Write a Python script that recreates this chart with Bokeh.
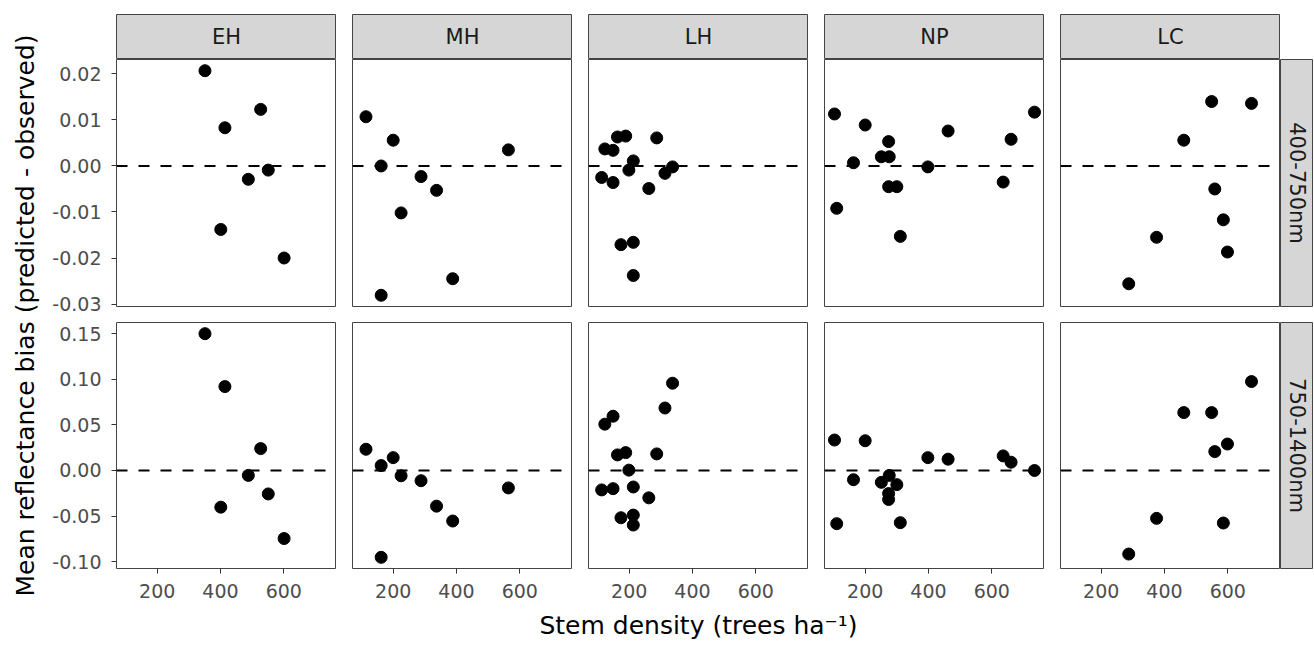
import numpy as np
from bokeh.plotting import figure
from bokeh.layouts import row, column
from bokeh.models import Range1d, Span, FixedTicker, PrintfTickFormatter
from bokeh.core.properties import value
from bokeh.embed import file_html
from bokeh.resources import INLINE

# ---------------- data ----------------
sites = ["EH", "MH", "LH", "NP", "LC"]
bands = ["400-750nm", "750-1400nm"]

eh_x = [351, 414, 527, 488, 551, 401, 601]
eh_vis = [0.0207, 0.0083, 0.0123, -0.0029, -0.0009, -0.0138, -0.0200]
eh_nir = [0.150, 0.092, 0.024, -0.0054, -0.0257, -0.0402, -0.0746]

mh_x = [114, 200, 564, 162, 288, 337, 225, 388, 162]
mh_vis = [0.0107, 0.0056, 0.0035, 0.0000, -0.0023, -0.0053, -0.0102, -0.0245, -0.0281]
mh_nir = [0.0233, 0.0141, -0.0191, 0.0054, -0.0112, -0.0391, -0.0058, -0.0554, -0.0952]

lh_x = [123, 149, 163, 189, 287, 213, 199, 337, 313, 113, 149, 262, 174, 213, 213]
lh_vis = [0.0037, 0.0034, 0.0063, 0.0065, 0.0061, 0.0011, -0.0009, -0.0002,
          -0.0016, -0.0025, -0.0036, -0.0049, -0.0171, -0.0166, -0.0238]
lh_nir = [0.0508, 0.0595, 0.0171, 0.0196, 0.0182, -0.0181, 0.0004, 0.0957,
          0.0685, -0.0213, -0.0199, -0.0300, -0.0518, -0.0489, -0.0598]

np_x = [103, 200, 274, 251, 276, 163, 398, 462, 661, 735, 636, 274, 300, 110, 311]
np_vis = [0.0113, 0.0089, 0.0053, 0.0020, 0.0020, 0.0007, -0.0002, 0.0076,
          0.0058, 0.0117, -0.0035, -0.0045, -0.0045, -0.0092, -0.0153]
np_nir = [0.0334, 0.0326, -0.0253, -0.0130, -0.0054, -0.0101, 0.0141, 0.0124,
          0.0091, 0.0000, 0.0160, -0.0318, -0.0155, -0.0583, -0.0572]

lc_x = [549, 675, 461, 559, 586, 375, 599, 287]
lc_vis = [0.0140, 0.0136, 0.0056, -0.0050, -0.0117, -0.0155, -0.0187, -0.0256]
lc_nir = [0.0635, 0.0975, 0.0635, 0.0207, -0.0576, -0.0525, 0.0290, -0.0916]

x_ticks = [200, 400, 600]
vis_ticks = [-0.03, -0.02, -0.01, 0.00, 0.01, 0.02]
nir_ticks = [-0.10, -0.05, 0.00, 0.05, 0.10, 0.15]

x_label = "Stem density (trees ha\u207b\u00b9)"
y_label = "Mean reflectance bias (predicted - observed)"

xs = [eh_x, mh_x, lh_x, np_x, lc_x]
ys = [[eh_vis, mh_vis, lh_vis, np_vis, lc_vis],
      [eh_nir, mh_nir, lh_nir, np_nir, lc_nir]]
yticks = [vis_ticks, nir_ticks]

# ---------------- style ----------------
FONT = "DejaVu Sans"
BORDER = "#444444"
STRIP_FILL = "#D6D6D6"


def expand(vals, f=0.05):
    lo, hi = min(vals), max(vals)
    pad = (hi - lo) * f
    return Range1d(lo - pad, hi + pad)


all_x = [v for xx in xs for v in xx]
x_range = expand(all_x)
y_ranges = [expand([v for yy in ys[b] for v in yy]) for b in range(2)]

FW = 220      # panel frame width
GAP = 16
LEFT0 = 72    # left border of first column (y axis)
FH = [247, 246]
BOTTOM = [16, 38]
STRIP_W = 33
TOP = 14
YL_W = 44
XL_H = 35


def base_fig(width, height, **kw):
    p = figure(width=width, height=height, toolbar_location=None,
               output_backend="svg", tools="", **kw)
    p.grid.visible = False
    p.background_fill_color = "white"
    p.border_fill_color = "white"
    return p


def style_axis(ax):
    ax.axis_line_color = None
    ax.major_tick_line_color = "#333333"
    ax.major_tick_line_width = 1
    ax.major_tick_out = 5
    ax.major_tick_in = 0
    ax.minor_tick_line_color = None
    ax.major_label_text_font = FONT
    ax.major_label_text_font_size = "19px"
    ax.major_label_text_color = "#4D4D4D"
    ax.major_label_standoff = 10


# strip row on top
strip_figs = []
for i, s in enumerate(sites):
    lb = LEFT0 if i == 0 else GAP
    p = base_fig(lb + FW, TOP + 45, x_range=Range1d(0, 1), y_range=Range1d(0, 1),
                 x_axis_location=None, y_axis_location=None,
                 min_border_left=lb, min_border_right=0,
                 min_border_top=TOP, min_border_bottom=0)
    p.background_fill_color = STRIP_FILL
    p.outline_line_color = BORDER
    p.outline_line_width = 1
    p.text(x=[0.5], y=[0.5], text=[s], text_align="center", text_baseline="middle",
           text_font=value(FONT), text_font_size="21px", text_color="#1A1A1A")
    strip_figs.append(p)

panel_rows = []
for b in range(2):
    figs = []
    for i, s in enumerate(sites):
        lb = LEFT0 if i == 0 else GAP
        p = base_fig(lb + FW, FH[b] + BOTTOM[b], x_range=x_range, y_range=y_ranges[b],
                     x_axis_location="below" if b == 1 else None,
                     y_axis_location="left" if i == 0 else None,
                     min_border_left=lb, min_border_right=0,
                     min_border_top=0, min_border_bottom=BOTTOM[b])
        p.outline_line_color = BORDER
        p.outline_line_width = 1
        if b == 1:
            p.xaxis.ticker = FixedTicker(ticks=x_ticks)
            style_axis(p.xaxis[0])
        if i == 0:
            p.yaxis.ticker = FixedTicker(ticks=yticks[b])
            p.yaxis.formatter = PrintfTickFormatter(format="%.2f")
            style_axis(p.yaxis[0])
        p.add_layout(Span(location=0, dimension="width", line_color="black",
                          line_width=2, line_dash="11 11"))
        p.scatter(x=xs[i], y=ys[b][i], size=12, color="black")
        figs.append(p)
    # right strip
    r = base_fig(STRIP_W, FH[b] + BOTTOM[b], x_range=Range1d(0, 1), y_range=Range1d(0, 1),
                 x_axis_location=None, y_axis_location=None,
                 min_border_left=0, min_border_right=0,
                 min_border_top=0, min_border_bottom=BOTTOM[b])
    r.background_fill_color = STRIP_FILL
    r.outline_line_color = BORDER
    r.outline_line_width = 1
    r.text(x=[0.5], y=[0.5], text=[bands[b]], angle=-np.pi / 2,
           text_align="center", text_baseline="middle",
           text_font=value(FONT), text_font_size="21px", text_color="#1A1A1A")
    figs.append(r)
    panel_rows.append(row(*figs))

total_w = LEFT0 + FW + 4 * (GAP + FW) + STRIP_W
panel_cx = (LEFT0 + (LEFT0 + 4 * (GAP + FW) + FW)) / 2
xl = base_fig(total_w, XL_H, x_range=Range1d(0, total_w), y_range=Range1d(XL_H, 0),
              x_axis_location=None, y_axis_location=None, min_border=0)
xl.outline_line_color = None
xl.text(x=[panel_cx], y=[19], text=[x_label], text_align="center", text_baseline="middle",
        text_font=value(FONT), text_font_size="25px", text_color="black")

right_col = column(row(*strip_figs), panel_rows[0], panel_rows[1], xl)

total_h = TOP + 45 + FH[0] + BOTTOM[0] + FH[1] + BOTTOM[1] + XL_H
yl = base_fig(YL_W, total_h, x_range=Range1d(0, YL_W), y_range=Range1d(total_h, 0),
              x_axis_location=None, y_axis_location=None, min_border=0)
yl.outline_line_color = None
yl.text(x=[25], y=[315], text=[y_label], angle=np.pi / 2,
        text_align="center", text_baseline="middle",
        text_font=value(FONT), text_font_size="25px", text_color="black")

layout = row(yl, right_col)

open("out.html", "w").write(file_html(layout, INLINE))
